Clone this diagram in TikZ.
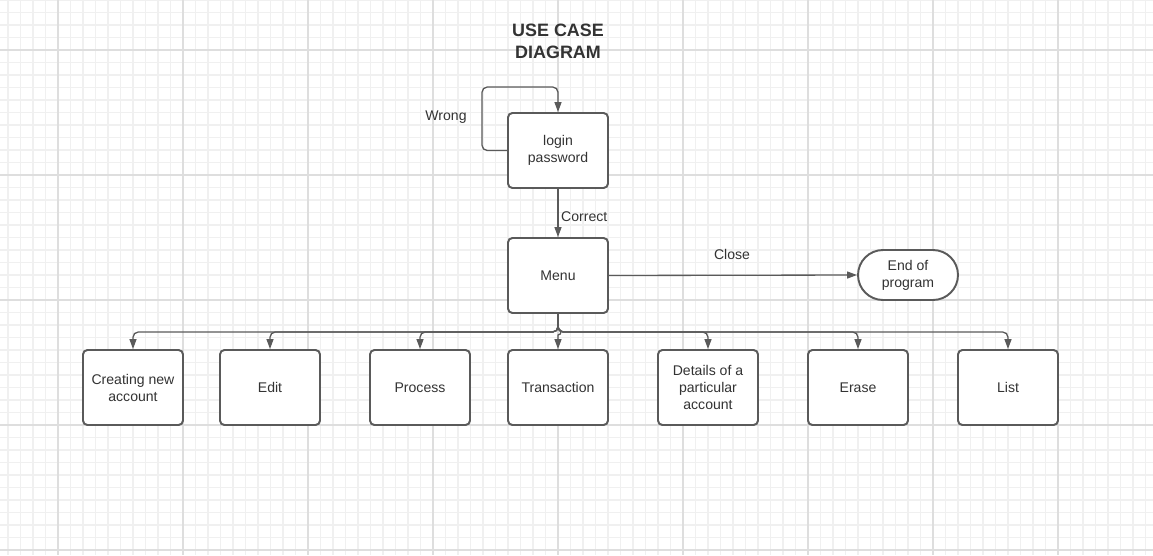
\documentclass[tikz,border=0pt]{standalone}
\usepackage{fontspec}
\setmainfont{Liberation Sans}
\usepackage{tikz}
\usetikzlibrary{arrows.meta, positioning, calc}

\definecolor{gridminor}{HTML}{F0F0F0}
\definecolor{gridmajor}{HTML}{DEDEDE}
\definecolor{boxline}{HTML}{5A5A5A}
\definecolor{txt}{HTML}{333333}

\begin{document}
\begin{tikzpicture}[
    x=0.02cm, y=-0.02cm,
    box/.style={rectangle, draw=boxline, line width=1.1pt, rounded corners=2.5pt, fill=white, minimum width=2cm, minimum height=1.5cm, align=center, text=txt, font=\fontsize{8}{9.7}\selectfont},
    terminal/.style={box, minimum height=1cm, rounded corners=0.5cm},
    lbl/.style={text=txt, font=\fontsize{8}{9.7}\selectfont},
    arrow/.style={-{Triangle[length=2mm, width=1.4mm]}, draw=boxline, line width=0.75pt, rounded corners=3pt}
]
\useasboundingbox (0,0) rectangle (1153,555);
\fill[white] (0,0) rectangle (1153,555);

% grid
\foreach \x in {8,20.5,...,1153} \draw[gridminor, line width=0.6pt] (\x,0) -- (\x,555);
\foreach \y in {0,12.5,...,555} \draw[gridminor, line width=0.6pt] (0,\y) -- (1153,\y);
\foreach \x in {58,183,...,1153} \draw[gridmajor, line width=1pt] (\x,0) -- (\x,555);
\foreach \y in {50,175,...,555} \draw[gridmajor, line width=1pt] (0,\y) -- (1153,\y);

% title
\node[align=center, text=txt, font=\fontsize{10.2}{12.5}\selectfont\bfseries] (title) at (558,41) {USE CASE\\DIAGRAM};

% login and menu
\node[box] (login) at (558,150.5) {login\\password};
\node[box] (menu) at (558,275.5) {Menu};
\node[terminal] (endprog) at (908,275) {End of\\program};

% use cases
\node[box] (create) at (133,387.5) {Creating new\\account};
\node[box] (edit) at (270,387.5) {Edit};
\node[box] (process) at (420,387.5) {Process};
\node[box] (trans) at (558,387.5) {Transaction};
\node[box] (details) at (708,387.5) {Details of a\\particular\\account};
\node[box] (erase) at (858,387.5) {Erase};
\node[box] (list) at (1008,387.5) {List};

% Relationships
\coordinate (wrongtop) at (482,87);
\draw[arrow] (login.west) -| (wrongtop) -| (login.north);
\node[lbl] (wrong) at (446,117) {Wrong};

\draw[arrow] (login.south) -- (menu.north);
\node[lbl, anchor=west] (correct) at (555,217) {Correct};

\draw[arrow] (menu.east) -- (endprog.west);
\node[lbl] (close) at (732,254) {Close};

\coordinate (bus) at (558,332);
\foreach \n in {create, edit, process, details, erase, list}
  \draw[arrow] (menu.south) -- (bus) -| (\n.north);
\draw[arrow, rounded corners=0pt] (menu.south) -- (558,329) arc[start angle=90, end angle=-90, radius=0.06cm] -- (trans.north);

\end{tikzpicture}
\end{document}
